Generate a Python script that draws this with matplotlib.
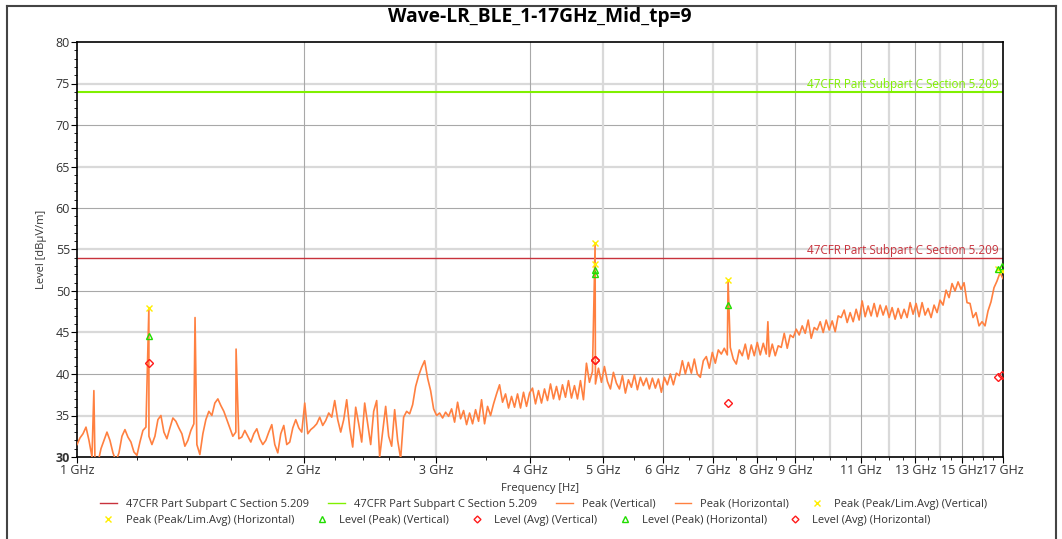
import numpy as np
import matplotlib.pyplot as plt
from matplotlib.lines import Line2D

plt.rcParams['font.family'] = ['Open Sans', 'DejaVu Sans']

title = "Wave-LR_BLE_1-17GHz_Mid_tp=9"
limit_name = "47CFR Part Subpart C Section 5.209"
limit_avg = 54.0
limit_peak = 74.0

# peak trace, sweep from 1 GHz to 17 GHz (dBuV/m)
peak_level = [
    31.5, 32.3, 32.8, 33.6, 32.0, 30.0, 29.5, 29.3, 31.0, 32.0,
    33.0, 32.0, 30.5, 29.5, 30.5, 32.5, 33.3, 32.4, 31.8, 30.6,
    30.2, 31.8, 33.2, 33.6, 32.5, 31.5, 32.5, 34.5, 35.0, 33.0,
    32.2, 33.5, 34.7, 34.3, 33.5, 32.8, 31.3, 32.0, 33.2, 34.0,
    31.5, 30.3, 32.8, 34.5, 35.5, 35.0, 36.5, 37.0, 36.2, 35.5,
    34.5, 33.5, 32.5, 33.0, 32.2, 32.4, 33.2, 32.5, 31.8, 32.8,
    33.4, 32.2, 31.5, 32.0, 33.0, 33.9, 31.5, 30.5, 32.8, 33.8,
    31.5, 31.8, 33.5, 34.5, 33.5, 33.0, 36.5, 32.8, 33.3, 33.6,
    34.0, 34.8, 33.8, 34.4, 35.3, 34.8, 36.8, 34.5, 33.0, 34.5,
    36.9, 33.5, 31.2, 36.0, 34.0, 31.8, 36.5, 34.0, 31.5, 35.5,
    36.8, 30.0, 33.0, 36.1, 32.5, 31.3, 35.7, 32.0, 29.8, 34.8,
    35.5, 35.2, 36.3, 38.5, 39.8, 40.8, 41.6, 39.5, 38.0, 35.8,
    35.0, 35.3, 34.7, 35.4, 34.9, 35.8, 34.2, 36.6, 34.6, 35.6,
    33.9, 35.3, 34.0, 35.7, 34.3, 36.9, 34.0, 36.1, 35.0, 36.4,
    37.6, 38.7, 36.6, 37.6, 35.9, 37.3, 36.0, 37.6, 35.9, 37.8,
    36.1, 37.7, 38.3, 36.4, 38.0, 36.5, 38.2, 36.8, 38.8, 37.0,
    38.5, 36.9, 38.7, 37.2, 39.2, 37.1, 38.6, 37.0, 39.2, 36.9,
    41.3, 39.0, 40.3, 38.8, 40.7, 39.0, 40.9, 39.1, 38.2, 40.2,
    38.9, 38.2, 39.8, 37.7, 39.3, 38.4, 39.9, 38.1, 39.6, 38.6,
    39.5, 38.2, 39.5, 38.3, 39.4, 37.8, 39.6, 38.7, 40.0, 38.7,
    40.1, 39.8, 41.6, 40.0, 41.4, 40.1, 41.8, 40.0, 39.6, 41.6,
    42.1, 40.7, 42.6, 41.3, 42.9, 42.4, 43.1, 42.3, 43.2, 41.8,
    41.2, 42.9, 42.2, 43.6, 41.8, 43.5, 42.2, 43.8, 42.3, 43.7,
    42.4, 42.1, 43.6, 42.2, 43.4, 43.2, 44.9, 43.1, 44.7, 44.4,
    45.4, 44.7, 45.8, 44.9, 46.5, 44.3, 45.6, 45.3, 46.3, 45.0,
    46.5, 45.3, 46.4, 45.1, 47.0, 46.8, 47.7, 46.2, 47.4, 46.3,
    47.8, 46.5, 48.8, 46.9, 48.2, 47.0, 48.5, 46.9, 48.3, 47.1,
    48.2, 46.8, 48.0, 46.6, 47.9, 46.7, 47.8, 46.8, 48.6, 47.2,
    48.5, 46.9, 48.6, 47.1, 47.9, 46.8, 48.3, 47.4, 48.9, 48.3,
    50.1, 49.2, 50.9, 50.0, 51.1, 50.2, 51.0, 48.6, 48.5, 46.8,
    47.4, 45.8, 46.3, 45.8, 47.6, 48.7, 50.4, 51.2, 52.2, 51.5,
]
freq_ghz = np.geomspace(1, 17, len(peak_level))

# narrow spurs on the trace
spur_freq = [1.053, 1.246, 1.435, 1.627, 4.88, 7.33, 8.28]
spur_level = [38.0, 48.0, 46.8, 43.0, 55.5, 51.3, 46.3]

# final measurement points
pk_v_freq = [1.246, 4.88, 7.33, 16.93]
pk_v_level = [48.0, 55.8, 51.3, 52.4]
pk_h_freq = [4.88, 16.74]
pk_h_level = [53.3, 52.6]
lvpk_v_freq = [1.246, 4.88, 7.33, 16.93]
lvpk_v_level = [44.6, 52.5, 48.3, 53.0]
lvpk_h_freq = [4.88, 16.74]
lvpk_h_level = [52.0, 52.7]
avg_v_freq = [1.246, 4.88, 7.33, 16.93]
avg_v_level = [41.3, 41.7, 36.5, 39.9]
avg_h_freq = [4.88, 16.74]
avg_h_level = [41.7, 39.6]

xticks = [1, 2, 3, 4, 5, 6, 7, 8, 9, 11, 13, 15, 17]

c_trace = '#ff8040'
c_red = '#c8323c'
c_green = '#80f000'
c_yel = '#ffee00'
c_tri = '#22dd00'
c_dia = '#ff1a1a'
c_text = '#333333'

f = np.concatenate([freq_ghz, spur_freq])
lv = np.concatenate([peak_level, spur_level])
order = np.argsort(f)
f, lv = f[order], lv[order]

fig = plt.figure(figsize=(10.62, 5.39), dpi=100)
ax = fig.add_axes([77/1062, 1-457/539, 926/1062, 415/539])

ax.set_xscale('log')
ax.set_xlim(1, 17)
ax.set_ylim(30, 80)

# grid, alternating shades like the receiver software
for y in range(35, 80, 10):
    ax.axhline(y, color='#d9d9d9', lw=1.6, zorder=0)
for y in range(40, 80, 10):
    ax.axhline(y, color='#a8a8a8', lw=0.8, zorder=0)
for x in [3, 5, 7, 8, 10, 12, 14, 16]:
    ax.axvline(x, color='#d9d9d9', lw=1.6, zorder=0)
for x in [2, 4, 6, 9, 11, 13, 15]:
    ax.axvline(x, color='#a8a8a8', lw=0.8, zorder=0)

ax.axhline(limit_avg, color=c_red, lw=1.0, zorder=2)
ax.axhline(limit_peak, color=c_green, lw=1.5, zorder=2)
ax.text(16.75, limit_avg + 0.05, limit_name, color=c_red, fontsize=8.4,
        ha='right', va='bottom')
ax.text(16.75, limit_peak + 0.05, limit_name, color=c_green, fontsize=8.4,
        ha='right', va='bottom')

ax.plot(f, lv, color=c_trace, lw=1.2, zorder=3)

ms = 4.5
ax.plot(pk_v_freq, pk_v_level, 'x', color=c_yel, ms=ms, mew=1, zorder=5)
ax.plot(pk_h_freq, pk_h_level, 'x', color=c_yel, ms=ms, mew=1, zorder=5)
ax.plot(lvpk_v_freq, lvpk_v_level, '^', mfc='none', mec=c_tri, ms=ms, mew=1, zorder=5)
ax.plot(lvpk_h_freq, lvpk_h_level, '^', mfc='none', mec=c_tri, ms=ms, mew=1, zorder=5)
ax.plot(avg_v_freq, avg_v_level, 'D', mfc='none', mec=c_dia, ms=4, mew=1, zorder=5)
ax.plot(avg_h_freq, avg_h_level, 'D', mfc='none', mec=c_dia, ms=4, mew=1, zorder=5)

ax.set_xticks(xticks)
ax.set_xticklabels([f"{t} GHz" for t in xticks])
minor = [1 + 0.2*k for k in range(1, 10)] + [3 + 0.5*k for k in range(1, 28)]
ax.set_xticks([m for m in minor if m not in xticks], minor=True)
ax.set_xticklabels([], minor=True)
ax.set_yticks(range(30, 81, 5))
ax.set_yticks(range(30, 81), minor=True)
ax.tick_params(axis='both', which='major', labelsize=9, colors='black',
               labelcolor=c_text, length=4, direction='out')
ax.tick_params(axis='both', which='minor', length=2.5, direction='out')
ax.tick_params(axis='x', pad=1)
ax.tick_params(axis='y', pad=1)
for lab in ax.get_yticklabels():
    if lab.get_text() == '30':
        lab.set_fontweight('bold')
for s in ax.spines.values():
    s.set_color('black')
    s.set_linewidth(1.2)

ax.set_xlabel("Frequency [Hz]", fontsize=8, color=c_text, labelpad=4)
ax.set_ylabel("Level [dBµV/m]", fontsize=8, color=c_text, labelpad=6)
fig.text(540/1062, 1-17/539, title, fontsize=13.8, fontweight='bold',
         ha='center', va='center', color='black')

# outer frame of the report image
fig.add_artist(Line2D([7/1062, 7/1062], [0, 1-6/539], color='#444444', lw=1.5))
fig.add_artist(Line2D([7/1062, 1056/1062], [1-6/539, 1-6/539], color='#444444', lw=1.5))
fig.add_artist(Line2D([1056/1062, 1056/1062], [0, 1-6/539], color='#444444', lw=1.5))

row1 = [
    Line2D([], [], color=c_red, lw=1, label=limit_name),
    Line2D([], [], color=c_green, lw=1, label=limit_name),
    Line2D([], [], color=c_trace, lw=1, label="Peak (Vertical)"),
    Line2D([], [], color=c_trace, lw=1, label="Peak (Horizontal)"),
    Line2D([], [], ls='none', marker='x', color=c_yel, ms=4, label="Peak (Peak/Lim.Avg) (Vertical)"),
]
row2 = [
    Line2D([], [], ls='none', marker='x', color=c_yel, ms=4, label="Peak (Peak/Lim.Avg) (Horizontal)"),
    Line2D([], [], ls='none', marker='^', mfc='none', mec=c_tri, ms=4, label="Level (Peak) (Vertical)"),
    Line2D([], [], ls='none', marker='D', mfc='none', mec=c_dia, ms=3.5, label="Level (Avg) (Vertical)"),
    Line2D([], [], ls='none', marker='^', mfc='none', mec=c_tri, ms=4, label="Level (Peak) (Horizontal)"),
    Line2D([], [], ls='none', marker='D', mfc='none', mec=c_dia, ms=3.5, label="Level (Avg) (Horizontal)"),
]
for handles, ytop in [(row1, 499), (row2, 515)]:
    leg = fig.legend(handles=handles, loc='upper left',
                     bbox_to_anchor=(100/1062, 1-ytop/539), ncol=5,
                     frameon=False, fontsize=8, handlelength=1.5,
                     handletextpad=0.8, columnspacing=1.75,
                     borderaxespad=0, borderpad=0)
    for t in leg.get_texts():
        t.set_color(c_text)

fig.savefig("out.png", dpi=100)
